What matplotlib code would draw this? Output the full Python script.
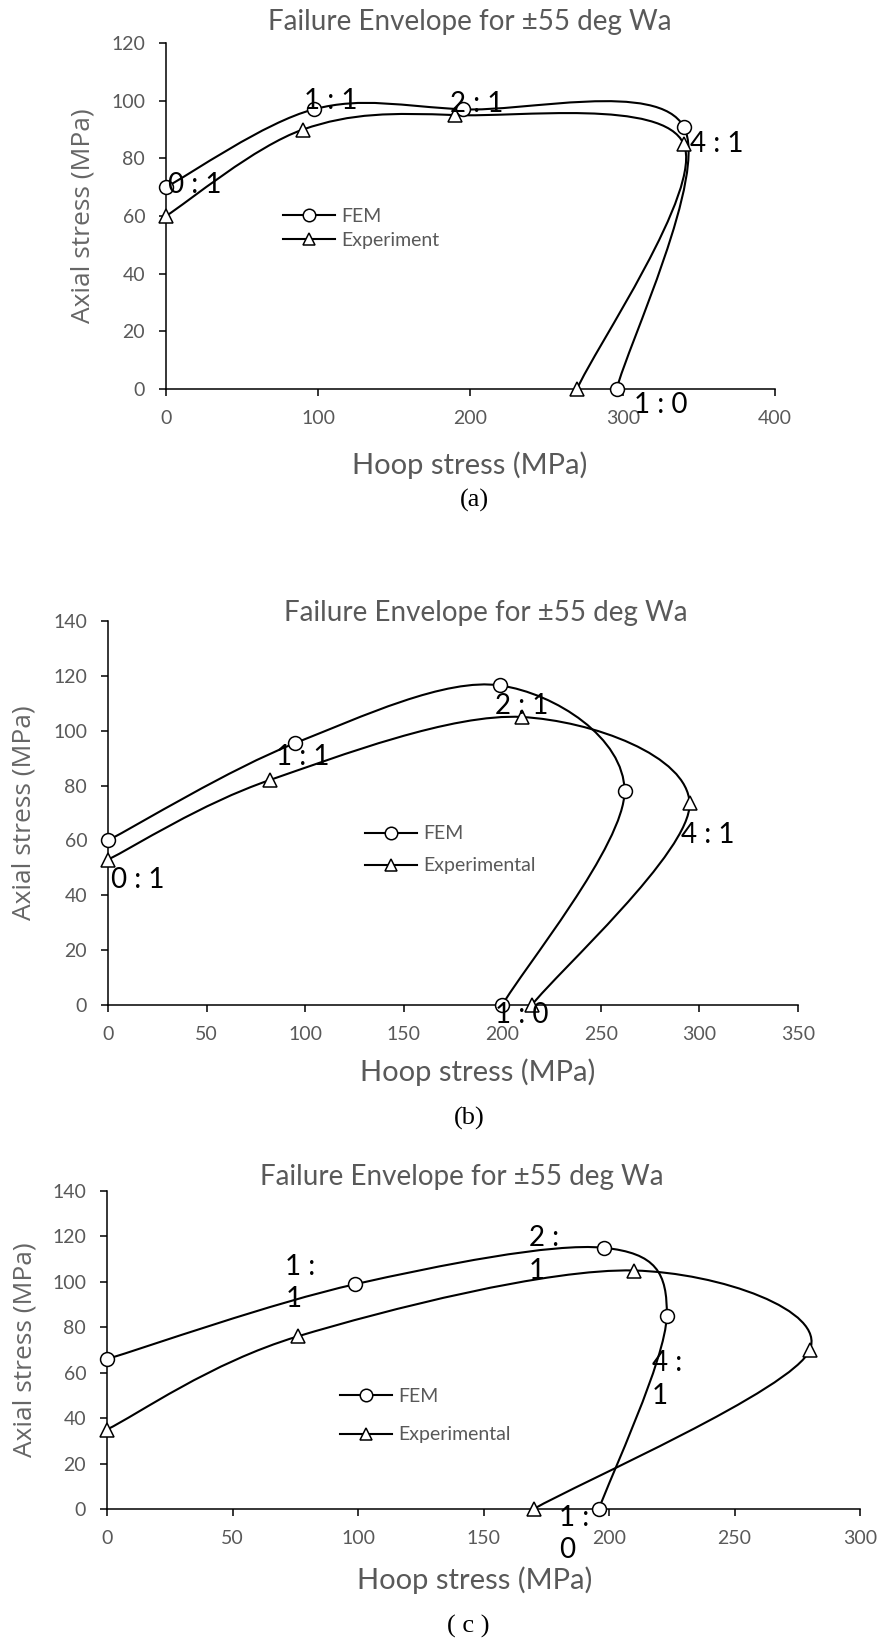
import numpy as np
import matplotlib as mpl
mpl.use('Agg')
from matplotlib import pyplot as plt
from matplotlib.path import Path
from matplotlib.patches import PathPatch
from matplotlib.lines import Line2D

plt.rcParams['font.family'] = ['Lato', 'DejaVu Sans']

# ---- panel (a) ----
fem_a_x = [0, 97, 195, 340, 296]
fem_a_y = [70, 97, 97, 91, 0]
exp_a_x = [0, 90, 190, 340, 270]
exp_a_y = [60, 90, 95, 85, 0]
lab_a = ['0 : 1', '1 : 1', '2 : 1', '4 : 1', '1 : 0']
lab_a_x = [19, 108, 204, 362, 325]
lab_a_y = [70.7, 100, 99, 85, -5.4]

# ---- panel (b) ----
fem_b_x = [0, 95, 199, 262, 200]
fem_b_y = [60, 95.5, 116.5, 78, 0]
exp_b_x = [0, 82, 210, 295, 215]
exp_b_y = [53, 82, 105, 73.5, 0]
lab_b = ['0 : 1', '1 : 1', '2 : 1', '4 : 1', '1 : 0']
lab_b_x = [15, 99, 210, 304, 210]
lab_b_y = [45.7, 90.5, 109, 62, -3.5]

# ---- panel (c) ----
fem_c_x = [0, 99, 198, 223, 196]
fem_c_y = [66, 99, 115, 85, 0]
exp_c_x = [0, 76, 210, 280, 170]
exp_c_y = [35, 76, 105, 70, 0]
lab_c = ['1 :\n1', '2 :\n1', '4 :\n1', '1 :\n0']
lab_c_x = [71, 168, 217, 180]
lab_c_y = [99.5, 112, 57, -11]

title = 'Failure Envelope for \u00b155 deg Wa'
xlab = 'Hoop stress (MPa)'
ylab = 'Axial stress (MPa)'

W, H = 877, 1641
GRAY = '#595959'
MS = 10


def fx(x):
    return x / W


def fy(y):
    return 1 - y / H


def smooth_path(xs, ys):
    # excel style smoothed line -> cubic bezier segments
    p = np.column_stack([xs, ys]).astype(float)
    n = len(p)
    verts = [p[0]]
    codes = [Path.MOVETO]
    for i in range(n - 1):
        p0 = p[i - 1] if i > 0 else p[i]
        p3 = p[i + 2] if i + 2 < n else p[i + 1]
        c1 = p[i] + (p[i + 1] - p0) / 6
        c2 = p[i + 1] - (p3 - p[i]) / 6
        verts += [c1, c2, p[i + 1]]
        codes += [Path.CURVE4] * 3
    return Path(verts, codes)


def make_panel(box, xmax, xstep, ymax, fem, exp, exp_name, leg_pos, leg_space):
    l, t, r, b = box
    ax = fig.add_axes([fx(l), fy(b), (r - l) / W, (b - t) / H])
    ax.set_xlim(0, xmax)
    ax.set_ylim(0, ymax)
    ax.set_xticks(np.arange(0, xmax + 1, xstep))
    ax.set_yticks(np.arange(0, ymax + 1, 20))
    for s in ['top', 'right']:
        ax.spines[s].set_visible(False)
    for s in ['left', 'bottom']:
        ax.spines[s].set_linewidth(1.1)
    ax.tick_params(direction='out', length=5, width=1.1, pad=10,
                   labelsize=14, labelcolor=GRAY)
    ax.patch.set_alpha(0)

    for (xs, ys), mk in [(fem, 'o'), (exp, '^')]:
        ax.add_patch(PathPatch(smooth_path(xs, ys), fill=False, lw=1.5,
                               ec='black', zorder=2, clip_on=False))
        ax.plot(xs, ys, ls='none', marker=mk, ms=MS, mfc='white', mec='black',
                mew=1.1, zorder=3, clip_on=False)

    handles = [Line2D([], [], color='black', lw=1.5, marker='o', ms=9,
                      mfc='white', mec='black', mew=1.1),
               Line2D([], [], color='black', lw=1.5, marker='^', ms=9,
                      mfc='white', mec='black', mew=1.1)]
    ax.legend(handles, ['FEM', exp_name], loc='center left',
              bbox_to_anchor=leg_pos, frameon=False, fontsize=14,
              labelcolor=GRAY, handlelength=2.7, handletextpad=0.3,
              labelspacing=leg_space, borderpad=0, borderaxespad=0)
    return ax


fig = plt.figure(figsize=(W / 100, H / 100), dpi=100)

# (a)
ax = make_panel((166, 43, 775, 389), 400, 100, 120,
                (fem_a_x, fem_a_y), (exp_a_x, exp_a_y), 'Experiment',
                (0.192, 0.465), 0.35)
for s, x, y in zip(lab_a, lab_a_x, lab_a_y):
    ax.text(x, y, s, ha='center', va='center', fontsize=20, color='black')
fig.text(fx(470), fy(22), title, ha='center', va='center', fontsize=20, color=GRAY)
fig.text(fx(470), fy(465), xlab, ha='center', va='center', fontsize=21, color=GRAY)
fig.text(fx(83), fy(216), ylab, ha='center', va='center', rotation=90,
         fontsize=19, color='#666666', family='Open Sans')
fig.text(fx(474), fy(500), '(a)', ha='center', va='center', fontsize=19,
         family='Liberation Serif')

# (b)
ax = make_panel((108, 621, 798, 1005), 350, 50, 140,
                (fem_b_x, fem_b_y), (exp_b_x, exp_b_y), 'Experimental',
                (0.372, 0.404), 0.77)
for s, x, y in zip(lab_b, lab_b_x, lab_b_y):
    ax.text(x, y, s, ha='center', va='center', fontsize=20, color='black')
fig.text(fx(486), fy(613), title, ha='center', va='center', fontsize=20, color=GRAY)
fig.text(fx(478), fy(1072), xlab, ha='center', va='center', fontsize=21, color=GRAY)
fig.text(fx(24), fy(813), ylab, ha='center', va='center', rotation=90,
         fontsize=19, color='#666666', family='Open Sans')
fig.text(fx(469), fy(1118), '(b)', ha='center', va='center', fontsize=19,
         family='Liberation Serif')

# (c)
ax = make_panel((107, 1191, 860, 1509), 300, 50, 140,
                (fem_c_x, fem_c_y), (exp_c_x, exp_c_y), 'Experimental',
                (0.309, 0.294), 1.13)
for s, x, y in zip(lab_c, lab_c_x, lab_c_y):
    ax.text(x, y, s, ha='left', va='center', fontsize=20, color='black',
            linespacing=1.3)
fig.text(fx(462), fy(1177), title, ha='center', va='center', fontsize=20, color=GRAY)
fig.text(fx(475), fy(1580), xlab, ha='center', va='center', fontsize=21, color=GRAY)
fig.text(fx(25), fy(1350), ylab, ha='center', va='center', rotation=90,
         fontsize=19, color='#666666', family='Open Sans')
fig.text(fx(468), fy(1626), '( c )', ha='center', va='center', fontsize=19,
         family='Liberation Serif')

fig.savefig('out.png', dpi=100)
